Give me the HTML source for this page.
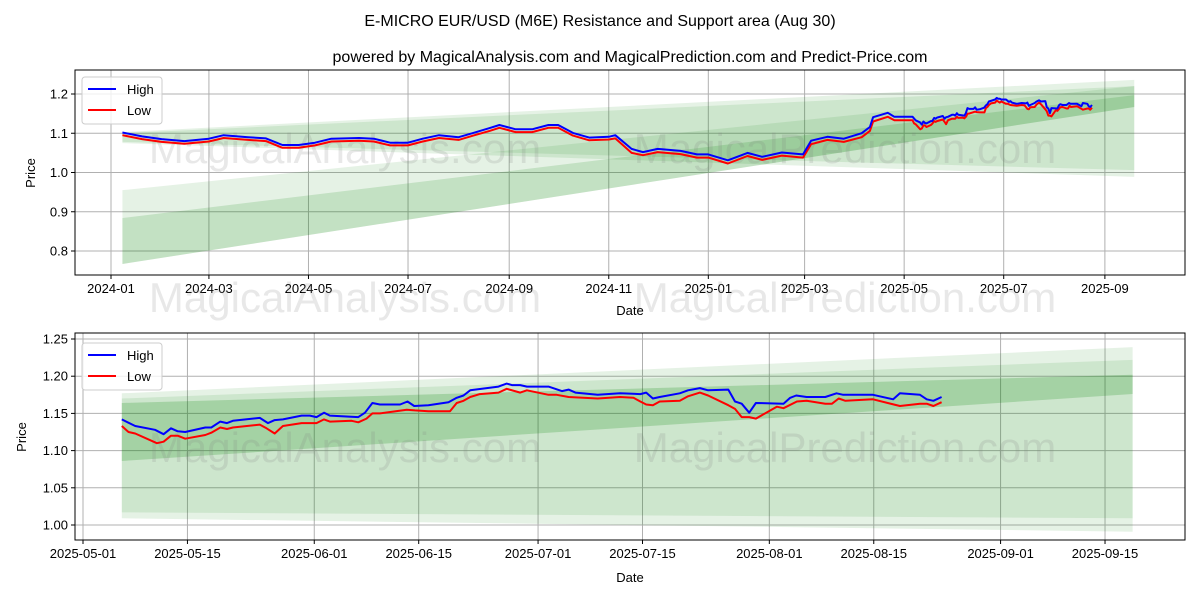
<!DOCTYPE html>
<html><head><meta charset="utf-8">
<style>
body{margin:0;background:#fff;}
svg{display:block;font-family:"Liberation Sans","DejaVu Sans",sans-serif;}
</style></head>
<body>
<svg id="chart" width="1200" height="600" viewBox="0 0 1200 600">
<text x="600" y="26" text-anchor="middle" font-size="16" fill="#000">E-MICRO EUR/USD (M6E) Resistance and Support area (Aug 30)</text>
<text x="630" y="62" text-anchor="middle" font-size="16" fill="#000">powered by MagicalAnalysis.com and MagicalPrediction.com and Predict-Price.com</text>
<g id="top"></g>
<g id="bot"></g>
</svg>
<script>
// ---- data: top panel (full history) ----
const topDates = ["2024-01-08","2024-01-20","2024-02-01","2024-02-15","2024-03-01","2024-03-10","2024-03-25","2024-04-05","2024-04-15","2024-04-25","2024-05-05","2024-05-15","2024-06-01","2024-06-10","2024-06-20","2024-07-01","2024-07-10","2024-07-20","2024-08-01","2024-08-10","2024-08-20","2024-08-26","2024-09-05","2024-09-15","2024-09-25","2024-10-01","2024-10-10","2024-10-20","2024-11-01","2024-11-05","2024-11-15","2024-11-22","2024-12-01","2024-12-15","2024-12-25","2025-01-01","2025-01-13","2025-01-25","2025-02-03","2025-02-15","2025-02-28","2025-03-05","2025-03-15","2025-03-25","2025-04-05","2025-04-10","2025-04-12","2025-04-21","2025-04-25"];
const topHigh = [1.102,1.092,1.085,1.080,1.086,1.095,1.090,1.087,1.070,1.070,1.076,1.086,1.088,1.086,1.076,1.076,1.086,1.095,1.090,1.101,1.113,1.121,1.110,1.110,1.121,1.121,1.101,1.089,1.091,1.095,1.060,1.052,1.060,1.055,1.046,1.046,1.031,1.050,1.040,1.051,1.046,1.081,1.091,1.086,1.100,1.116,1.141,1.152,1.142];
const topLow  = [1.095,1.085,1.078,1.073,1.079,1.088,1.083,1.080,1.063,1.063,1.069,1.079,1.081,1.079,1.069,1.069,1.079,1.088,1.083,1.094,1.106,1.114,1.103,1.103,1.114,1.114,1.094,1.082,1.084,1.087,1.050,1.044,1.052,1.047,1.038,1.038,1.023,1.042,1.032,1.043,1.038,1.072,1.083,1.078,1.090,1.106,1.130,1.142,1.133];
// ---- data: recent period (days since 2025-05-01) ----
const highDays = [5.2,7.0,9.65,10.8,11.8,12.7,13.7,16.4,17.2,18.4,19.3,20.1,23.7,24.8,25.7,26.8,29.3,30.4,31.3,32.3,33.1,36.9,37.8,38.8,39.8,42.5,43.5,44.4,46.3,49.0,50.1,51.0,51.9,55.7,56.8,57.5,58.6,59.5,62.4,64.2,65.1,66.0,69.0,72.0,74.7,75.5,76.4,77.3,80.0,81.1,82.7,83.8,86.5,87.4,88.3,89.3,90.2,93.9,94.8,95.6,97.0,99.5,101.0,101.9,105.9,108.6,109.5,112.2,113.1,114.0,115.1];
const highVals = [1.142,1.133,1.128,1.122,1.130,1.126,1.125,1.131,1.131,1.139,1.137,1.140,1.144,1.137,1.141,1.142,1.147,1.147,1.145,1.151,1.147,1.145,1.151,1.164,1.162,1.162,1.166,1.160,1.161,1.165,1.171,1.174,1.181,1.186,1.190,1.188,1.188,1.186,1.186,1.180,1.182,1.178,1.175,1.177,1.176,1.178,1.170,1.172,1.177,1.181,1.184,1.181,1.182,1.166,1.163,1.151,1.164,1.163,1.171,1.174,1.172,1.172,1.177,1.175,1.175,1.169,1.177,1.175,1.169,1.167,1.172];
const lowDays = [5.2,6.1,7.0,9.9,10.8,11.8,12.7,13.7,16.4,17.2,18.4,19.3,20.1,23.7,24.6,25.7,26.8,29.3,30.4,31.3,32.3,33.1,36.0,36.9,38.0,38.8,39.8,43.4,44.5,46.3,49.2,50.1,51.0,51.9,53.2,55.7,56.8,58.6,59.5,62.4,63.5,65.1,69.0,72.0,73.8,74.7,75.5,76.4,77.3,80.0,81.1,82.7,83.8,86.5,87.4,88.3,89.3,90.2,93.0,93.9,95.7,97.0,99.5,100.4,101.3,102.2,105.9,109.5,112.2,113.1,114.0,115.1];
const lowVals = [1.133,1.125,1.123,1.110,1.112,1.120,1.120,1.116,1.121,1.124,1.131,1.129,1.131,1.135,1.130,1.123,1.133,1.137,1.137,1.137,1.142,1.139,1.140,1.138,1.143,1.150,1.150,1.155,1.154,1.153,1.153,1.164,1.167,1.172,1.176,1.178,1.183,1.178,1.181,1.175,1.175,1.172,1.170,1.172,1.171,1.166,1.162,1.161,1.166,1.167,1.173,1.178,1.174,1.161,1.156,1.145,1.145,1.143,1.159,1.157,1.166,1.167,1.163,1.163,1.170,1.167,1.169,1.160,1.163,1.163,1.160,1.165];
// ---- bands: [leftLower, leftUpper, rightLower, rightUpper] ----
const topBandStart = "2024-01-08", topBandEnd = "2025-09-19";
const topBands = [[1.075,1.103,0.989,1.236],[1.078,1.100,1.006,1.220],[0.767,0.955,1.167,1.220],[0.767,0.884,1.167,1.197]];
const topBandAlpha = [0.1,0.1,0.1,0.15];
const botBandStart = 5.2, botBandEnd = 140.7;
const botBands = [[1.009,1.177,0.991,1.239],[1.017,1.170,1.009,1.222],[1.086,1.164,1.176,1.202]];
const botBandAlpha = [0.1,0.1,0.2];
const topYTicks = [0.8,0.9,1.0,1.1,1.2];
const topXTicks = ["2024-01","2024-03","2024-05","2024-07","2024-09","2024-11","2025-01","2025-03","2025-05","2025-07","2025-09"];
const botYTicks = [1.00,1.05,1.10,1.15,1.20,1.25];
const botXTicks = ["2025-05-01","2025-05-15","2025-06-01","2025-06-15","2025-07-01","2025-07-15","2025-08-01","2025-08-15","2025-09-01","2025-09-15"];

const NS="http://www.w3.org/2000/svg";
function mk(parent,tag,attrs,text){const e=document.createElementNS(NS,tag);for(const k in attrs)e.setAttribute(k,attrs[k]);if(text!==undefined)e.textContent=text;parent.appendChild(e);return e;}
const D0=Date.UTC(2024,0,1), B0=Date.UTC(2025,4,1);
function ms(s){const p=s.split("-").map(Number);return Date.UTC(p[0],p[1]-1,p[2]||1);}
const tx=s=>111+(ms(s)-D0)/864e5*1.632;
const txd=d=>111+((B0-D0)/864e5+d)*1.632;
const ty=v=>94+(1.2-v)*392.5;
const bx=d=>83+d*7.46;
const bxs=s=>bx((ms(s)-B0)/864e5);
const by=v=>339+(1.25-v)*744;

function panel(g,L,T,R,B,yticks,yfmt,ymap,xticks,xmap,xfmt,prefix){
  for(const t of yticks){const y=ymap(t);
    const gl=mk(g,"line",{x1:L,x2:R,y1:y,y2:y,stroke:"#b0b0b0","stroke-width":1});
    
    
    mk(g,"line",{x1:L-4,x2:L,y1:y,y2:y,stroke:"#000"});
    const lb=mk(g,"text",{x:L-7,y:y+4.5,"text-anchor":"end","font-size":13},yfmt(t));
    
    }
  for(const t of xticks){const x=xmap(t);
    const gl=mk(g,"line",{x1:x,x2:x,y1:T,y2:B,stroke:"#b0b0b0","stroke-width":1});
    
    
    mk(g,"line",{x1:x,x2:x,y1:B,y2:B+4,stroke:"#000"});
    const lb=mk(g,"text",{x:x,y:B+18,"text-anchor":"middle","font-size":13},xfmt(t));
    
    }
}
function bands(g,arr,alpha,x1,x2,ymap,prefix){
  arr.forEach((b,i)=>{
    const p=mk(g,"polygon",{points:`${x1},${ymap(b[0])} ${x1},${ymap(b[1])} ${x2},${ymap(b[3])} ${x2},${ymap(b[2])}`,fill:"rgb(0,128,0)","fill-opacity":alpha[i]});
    
    
  });
}
function line(g,pts,color,name){
  const p=mk(g,"polyline",{points:pts.map(q=>q[0].toFixed(1)+","+q[1].toFixed(1)).join(" "),fill:"none",stroke:color,"stroke-width":2,"stroke-linejoin":"round"});
  
  
}
function legend(g,x,y,prefix){
  const r=mk(g,"rect",{x:x,y:y,width:80,height:47,rx:3,fill:"#fff","fill-opacity":0.8,stroke:"#ccc"});
  
  
  mk(g,"line",{x1:x+6,x2:x+34,y1:y+12,y2:y+12,stroke:"#0000ff","stroke-width":2});
  const t1=mk(g,"text",{x:x+45,y:y+17,"font-size":13},"High");
  
  
  mk(g,"line",{x1:x+6,x2:x+34,y1:y+33,y2:y+33,stroke:"#ff0000","stroke-width":2});
  const t2=mk(g,"text",{x:x+45,y:y+38,"font-size":13},"Low");
  
  
}
function watermark(g,x,y,txt,prefix){
  const w=mk(g,"text",{x:x,y:y,"text-anchor":"middle","font-size":42,fill:"#808080","fill-opacity":0.18},txt);
  
  
}

// TOP
const gt=document.getElementById("top");
panel(gt,75,70,1185,275,topYTicks,v=>v.toFixed(1),ty,topXTicks,tx,s=>s,"top");
bands(gt,topBands,topBandAlpha,tx(topBandStart),tx(topBandEnd),ty,"top");
watermark(gt,345,163,"MagicalAnalysis.com","top");
watermark(gt,845,163,"MagicalPrediction.com","top");
watermark(gt,345,312,"MagicalAnalysis.com","top-axis");
watermark(gt,845,312,"MagicalPrediction.com","top-axis");
const tH=topDates.map((d,i)=>[tx(d),ty(topHigh[i])]).concat(highDays.map((d,i)=>[txd(d),ty(highVals[i])]));
const tL=topDates.map((d,i)=>[tx(d),ty(topLow[i])]).concat(lowDays.map((d,i)=>[txd(d),ty(lowVals[i])]));
line(gt,tL,"#ff0000","top-low-line");
line(gt,tH,"#0000ff","top-high-line");
const ft=mk(gt,"rect",{x:75,y:70,width:1110,height:205,fill:"none",stroke:"#000","stroke-width":1});


legend(gt,82,77,"top");
const xl1=mk(gt,"text",{x:630,y:315,"text-anchor":"middle","font-size":13},"Date");


const yl1=mk(gt,"text",{x:35,y:173,"text-anchor":"middle","font-size":13,transform:"rotate(-90 35 173)"},"Price");



// BOTTOM
const gb=document.getElementById("bot");
panel(gb,75,333,1185,540,botYTicks,v=>v.toFixed(2),by,botXTicks,bxs,s=>s,"bottom");
bands(gb,botBands,botBandAlpha,bx(botBandStart),bx(botBandEnd),by,"bottom");
watermark(gb,345,462,"MagicalAnalysis.com","bottom");
watermark(gb,845,462,"MagicalPrediction.com","bottom");
line(gb,lowDays.map((d,i)=>[bx(d),by(lowVals[i])]),"#ff0000","bottom-low-line");
line(gb,highDays.map((d,i)=>[bx(d),by(highVals[i])]),"#0000ff","bottom-high-line");
const fb=mk(gb,"rect",{x:75,y:333,width:1110,height:207,fill:"none",stroke:"#000","stroke-width":1});


legend(gb,82,343,"bottom");
const xl2=mk(gb,"text",{x:630,y:582,"text-anchor":"middle","font-size":13},"Date");


const yl2=mk(gb,"text",{x:26,y:437,"text-anchor":"middle","font-size":13,transform:"rotate(-90 26 437)"},"Price");


</script>
</body></html>
